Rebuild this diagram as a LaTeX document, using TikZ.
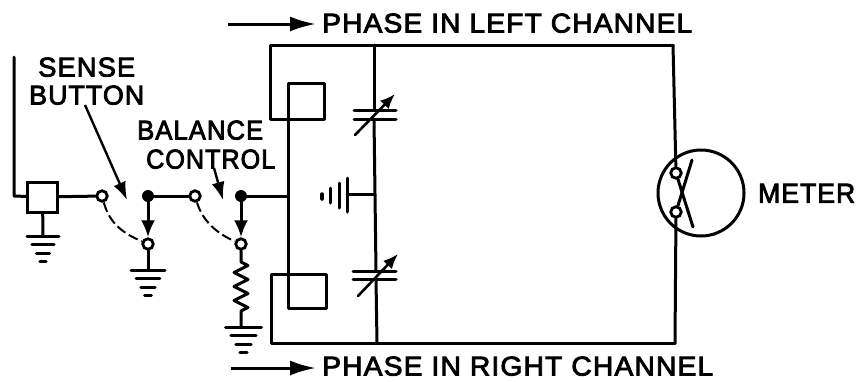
\documentclass[tikz,border=0pt]{standalone}
\usepackage{fontspec}
\usepackage{graphicx}
\setmainfont[FakeBold=3,LetterSpace=4]{Liberation Sans}
\usetikzlibrary{arrows.meta,decorations.pathmorphing}
\newcommand{\lab}[2]{\resizebox{#1pt}{19pt}{#2}}
\newcommand{\gnd}[3]{% x y halfwidth
  \draw[wire] (#1-#3,#2) -- (#1+#3,#2);
  \draw[wire] (#1-0.7*#3,#2+8) -- (#1+0.7*#3,#2+8);
  \draw[wire] (#1-0.42*#3,#2+17) -- (#1+0.42*#3,#2+17);
  \draw[wire] (#1-0.2*#3,#2+25) -- (#1+0.2*#3,#2+25);
}
\tikzset{
  wire/.style={line width=3pt,line cap=round,line join=round},
  thinwire/.style={line width=2.6pt,line cap=round},
  term/.style={circle,draw,line width=2.8pt,fill=white,minimum size=10.5pt,inner sep=0pt},
  dotn/.style={circle,fill=black,minimum size=12pt,inner sep=0pt},
  swlink/.style={line width=2pt,dash pattern=on 10pt off 4pt},
  pointer/.style={line width=2.4pt,-{Latex[length=18pt,width=13pt]}},
  bigarrow/.style={line width=3pt,-{Latex[length=26pt,width=15pt]}},
  lbl/.style={inner sep=0pt,anchor=south west},
}
\begin{document}
\begin{tikzpicture}[x=1pt,y=-1pt]
\useasboundingbox (0,0) rectangle (858,381);
% labels
\node[lbl] (tL) at (322,33) {\lab{370}{PHASE IN LEFT CHANNEL}};
\node[lbl] (tR) at (322,376) {\lab{391}{PHASE IN RIGHT CHANNEL}};
\node[lbl] (tS) at (38,77) {\lab{97}{SENSE}};
\node[lbl] (tB) at (29,105) {\lab{115}{BUTTON}};
\node[lbl] (tBa) at (137,140) {\lab{126}{BALANCE}};
\node[lbl] (tC) at (146,169) {\lab{129}{CONTROL}};
\node[lbl] (tM) at (758,203) {\lab{97}{METER}};
% coordinates
\coordinate (ant) at (14,57);
\coordinate (antb) at (14,196);
\node[draw,line width=3pt,minimum width=30pt,minimum height=30pt,inner sep=0pt] (box) at (42.5,197) {};
\node[term] (s1) at (102,196) {};
\node[dotn] (d1) at (148,196) {};
\node[term] (s2) at (195,196) {};
\node[dotn] (d2) at (241,196) {};
\coordinate (j) at (288,196);
\node[term] (c1) at (148,244) {};
\node[term] (c2) at (241,244) {};
\coordinate (g0) at (43,236);
\coordinate (g1) at (148,270);
\coordinate (g2) at (241,327);
\draw[wire] (ant) -- (antb) -- (box);
\draw[wire] (box) -- (s1);
\draw[wire] (d1) -- (s2);
\draw[wire] (d2) -- (j);
\draw[wire] (box) -- (g0);
\gnd{43}{236}{16}
\gnd{148}{270}{17}
\gnd{243.5}{327}{18}
\draw[wire,-{Latex[length=17pt,width=14pt]}] (d1) -- (c1.north);
\draw[wire,-{Latex[length=17pt,width=14pt]}] (d2) -- (c2.north);
\draw[wire] (c1) -- (g1);
\draw[wire] (c2) -- (241,262) decorate[decoration={zigzag,segment length=14pt,amplitude=7pt}] {-- (241,316)} -- (g2);
\draw[swlink] (s1) .. controls (110,225) and (125,234) .. (c1);
\draw[swlink] (s2) .. controls (203,222) and (218,234) .. (c2);
\draw[pointer] (85,105) -- (127,200);
\draw[pointer] (214,168) -- (223,200);
% transformer loops
\draw[wire] (673,45) -- (270,45) -- (270,119) -- (324,119) -- (324,83) -- (288,83) -- (288,308) -- (326,308) -- (326,274) -- (271,274) -- (271,343) -- (675,343);
% capacitors
\draw[wire] (374,45) -- (374,110);
\draw[wire] (354,110) -- (396,110);
\draw[wire] (354,119) -- (396,119);
\draw[wire] (374,119) -- (376,271);
\draw[wire] (353,271) -- (396,271);
\draw[wire] (353,279) -- (396,279);
\draw[wire] (376,279) -- (377,343);
\draw[thinwire,-{Latex[length=15pt,width=12pt]}] (355,135) -- (395,94);
\draw[thinwire,-{Latex[length=15pt,width=12pt]}] (358,296) -- (398,254);
% battery
\draw[wire] (375,194) -- (347,194);
\draw[wire] (347,178) -- (347,212);
\draw[wire] (339,183) -- (339,208);
\draw[wire] (330,188) -- (330,203);
\draw[wire,line width=3.5pt] (322,194) -- (322,199);
% meter
\node[circle,draw,line width=3pt,minimum size=86pt,inner sep=0pt] (mtr) at (701,193) {};
\node[term] (m1) at (676,173) {};
\node[term] (m2) at (676,212) {};
\draw[wire] (673,45) -- (m1);
\draw[wire] (m2) -- (675,343);
\draw[wire] (692,160) -- (m2);
\draw[wire] (m1) -- (693,227);
% big arrows
\coordinate (a1) at (228,24); \coordinate (a2) at (316,24);
\coordinate (b1) at (231,368); \coordinate (b2) at (316,368);
\draw[bigarrow] (a1) -- (a2);
\draw[bigarrow] (b1) -- (b2);
\end{tikzpicture}
\end{document}
